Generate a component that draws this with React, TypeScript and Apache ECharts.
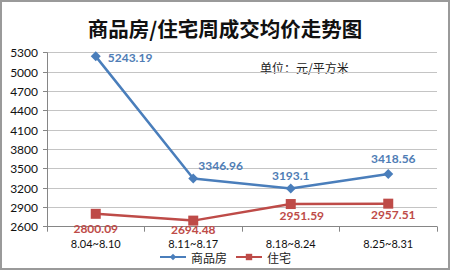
import React, { useEffect, useRef } from "react";
import * as echarts from "echarts";

const categories = ["8.04~8.10", "8.11~8.17", "8.18~8.24", "8.25~8.31"];
const commercial = [5243.19, 3346.96, 3193.1, 3418.56];
const residential = [2800.09, 2694.48, 2951.59, 2957.51];
const yTicks = { min: 2600, max: 5300, step: 300 };

// label placement (style, not data)
const commercialLabels = [
  { position: "right", distance: 7, offset: [0, 1] },
  { position: "right", distance: 0, offset: [0, -13] },
  { position: "top", distance: 2, offset: [0, 0] },
  { position: "top", distance: 4, offset: [5, 0] },
];
const residentialLabels = [
  { position: "bottom", distance: 4, offset: [0, 0] },
  { position: "bottom", distance: 0, offset: [0, -2] },
  { position: "bottom", distance: 0, offset: [11, 0] },
  { position: "bottom", distance: 0, offset: [5, 0] },
];

export default function App() {
  const ref = useRef<HTMLDivElement>(null);
  useEffect(() => {
    const chart = echarts.init(ref.current!, null, { renderer: "svg" });
    const blue = "#4A7EBB";
    const red = "#BE4B48";
    chart.setOption({
      animation: false,
      backgroundColor: "#fff",
      title: {
        text: "商品房/住宅周成交均价走势图",
        left: "center",
        top: 11,
        textStyle: { fontFamily: "Noto Sans CJK SC", fontSize: 20.5, fontWeight: "bold", color: "#111" },
      },
      graphic: [
        {
          type: "text",
          left: 258,
          top: 59,
          style: { text: "单位：元/平方米", font: "12px 'Noto Sans CJK SC'", fill: "#222" },
        },
      ],
      legend: {
        top: 244,
        left: "center",
        itemWidth: 26,
        itemHeight: 8,
        itemGap: 8,
        textStyle: { fontFamily: "Noto Sans CJK SC", fontSize: 12, color: "#222" },
        data: ["商品房", "住宅"],
      },
      grid: { left: 45, right: 11, top: 50.7, bottom: 41.3, containLabel: false },
      xAxis: {
        type: "category",
        data: categories,
        boundaryGap: true,
        axisLine: { lineStyle: { color: "#868686" } },
        axisTick: { show: true, length: 5, lineStyle: { color: "#868686" } },
        axisLabel: { color: "#111", fontFamily: "Lato", fontSize: 11, lineHeight: 12, margin: 11 },
      },
      yAxis: {
        type: "value",
        min: yTicks.min,
        max: yTicks.max,
        interval: yTicks.step,
        axisLine: { show: true, lineStyle: { color: "#868686" } },
        axisTick: { show: true, length: 4, lineStyle: { color: "#868686" } },
        axisLabel: {
          color: "#111",
          fontFamily: "Lato",
          fontSize: 12,
          margin: 9,
          formatter: (v: number) => String(v),
        },
        splitLine: { lineStyle: { color: "#C4C4C4", width: 1.2 } },
      },
      series: [
        {
          name: "商品房",
          type: "line",
          data: commercial.map((v, i) => ({ value: v, label: commercialLabels[i] })),
          symbol: "diamond",
          symbolSize: 10,
          itemStyle: { color: blue },
          lineStyle: { color: blue, width: 2.5 },
          label: {
            show: true,
            color: "#4F7DB5",
            fontFamily: "Lato",
            fontWeight: "bold",
            fontSize: 12,
          },
        },
        {
          name: "住宅",
          type: "line",
          data: residential.map((v, i) => ({ value: v, label: residentialLabels[i] })),
          symbol: "rect",
          symbolSize: 10,
          itemStyle: { color: red },
          lineStyle: { color: red, width: 2.5 },
          label: {
            show: true,
            color: "#BE4B48",
            fontFamily: "Lato",
            fontWeight: "bold",
            fontSize: 12,
            lineHeight: 12,
          },
        },
      ],
    });
    return () => chart.dispose();
  }, []);
  return (
    <div
      style={{
        position: "fixed",
        left: 0,
        top: 0,
        width: 450,
        height: 270,
        boxSizing: "border-box",
        border: "2px solid #9a9a9a",
        background: "#fff",
      }}
    >
      <div ref={ref} style={{ width: 446, height: 266 }} />
    </div>
  );
}
